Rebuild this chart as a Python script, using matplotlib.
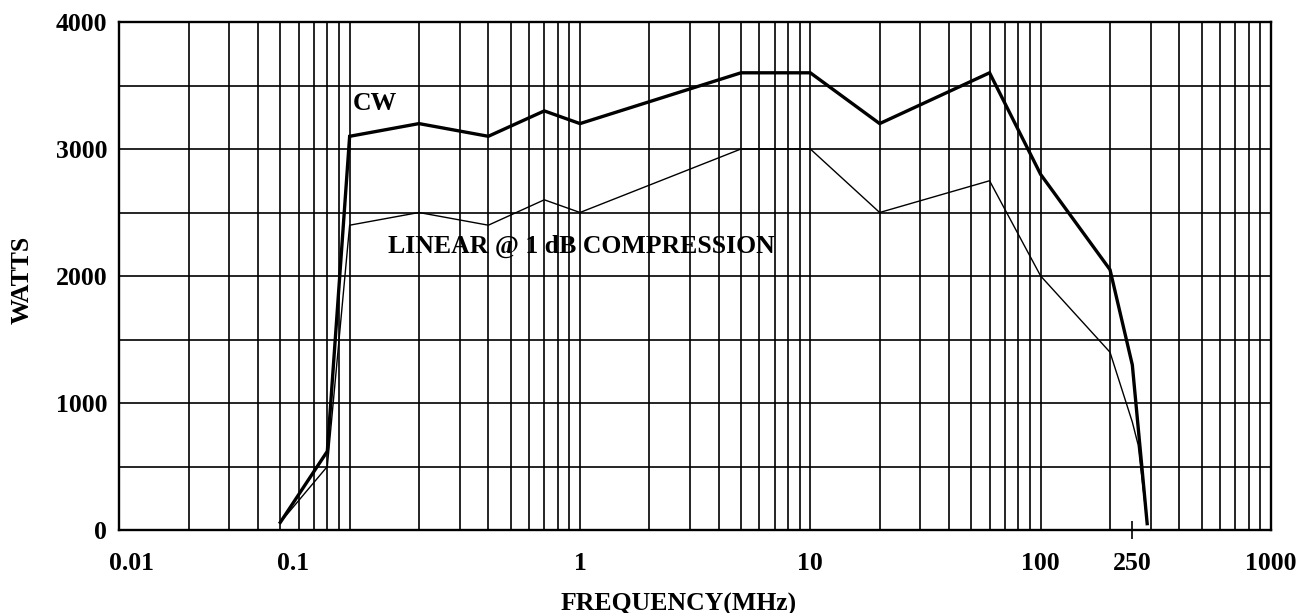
import matplotlib
matplotlib.use("Agg")
import matplotlib.pyplot as plt
import matplotlib.transforms as mtransforms
import numpy as np

# ---- data ----
cw_freq = [0.05, 0.08, 0.1, 0.2, 0.4, 0.7, 1, 5, 10, 20, 60, 100, 200, 250, 290]
cw_watts = [60, 620, 3100, 3200, 3100, 3300, 3200, 3600, 3600, 3200, 3600, 2800, 2050, 1300, 50]
lin_freq = [0.05, 0.08, 0.1, 0.2, 0.4, 0.7, 1, 5, 10, 20, 60, 100, 200, 250, 265, 290]
lin_watts = [60, 500, 2400, 2500, 2400, 2600, 2500, 3000, 3000, 2500, 2750, 2000, 1400, 850, 670, 50]

x_tick_values = [0.01, 0.1, 1, 10, 100, 250, 1000]
x_tick_labels = ["0.01", "0.1", "1", "10", "100", "250", "1000"]
x_label_shift_px = [12, -57, 0, 0, 0, 0, 0]
y_tick_values = [0, 500, 1000, 1500, 2000, 2500, 3000, 3500, 4000]
y_tick_labels = ["0", "", "1000", "", "2000", "", "3000", "", "4000"]

plt.rcParams['font.family'] = ['Liberation Serif', 'DejaVu Serif']
plt.rcParams['font.weight'] = 'bold'
FS = 18.5

W, H = 1311, 613
fig = plt.figure(figsize=(W / 100, H / 100), dpi=100)
L, R, T, B = 119.3, 1271.0, 22.0, 530.0
ax = fig.add_axes([L / W, 1 - B / H, (R - L) / W, (B - T) / H])

ax.set_xscale('log')
ax.set_xlim(0.01, 1000)
ax.set_ylim(0, 4000)

# grid lines (log decade subdivisions)
grid_x = [k * d for d in [0.01, 0.1, 1, 10, 100] for k in range(1, 10)] + [1000]
ax.xaxis.set_major_locator(matplotlib.ticker.FixedLocator(grid_x))
ax.xaxis.set_major_formatter(matplotlib.ticker.NullFormatter())
ax.xaxis.set_minor_locator(matplotlib.ticker.FixedLocator([250]))
ax.xaxis.set_minor_formatter(matplotlib.ticker.NullFormatter())
ax.tick_params(axis='x', which='major', length=0)
ax.tick_params(axis='x', which='minor', length=13, width=1.2, direction='inout', color='black')

ax.set_yticks(y_tick_values)
ax.set_yticklabels(y_tick_labels, fontsize=FS, fontweight='bold')
ax.tick_params(axis='y', length=0, pad=8.6)

ax.grid(True, which='major', color='black', linewidth=1.2)
ax.set_axisbelow(True)
for s in ax.spines.values():
    s.set_linewidth(1.7)
    s.set_color('black')

ax.plot(cw_freq, cw_watts, color='black', linewidth=2.4, solid_joinstyle='miter', zorder=3)
ax.plot(lin_freq, lin_watts, color='black', linewidth=1.0, zorder=3)

# x tick labels
base = mtransforms.blended_transform_factory(ax.transData, ax.transAxes)
for v, lab, dx in zip(x_tick_values, x_tick_labels, x_label_shift_px):
    tr = base + mtransforms.ScaledTranslation(dx / 100, 0, fig.dpi_scale_trans)
    ax.text(v, (B - 570) / (B - T), lab, transform=tr, ha='center', va='baseline',
            fontsize=FS, fontweight='bold', clip_on=False)

ax.text(0.103, 3310, "CW", fontsize=FS, fontweight='bold', ha='left', va='baseline')
ax.text(0.147, 2180, "LINEAR @ 1 dB COMPRESSION", fontsize=FS, fontweight='bold',
        ha='left', va='baseline')

fig.text(22 / W, 1 - 280 / H, "WATTS", rotation=90, ha='center', va='center',
         fontsize=FS, fontweight='bold')
fig.text(679 / W, 1 - 604 / H, "FREQUENCY(MHz)", ha='center', va='center',
         fontsize=FS, fontweight='bold')

fig.savefig("out.png", dpi=100)
